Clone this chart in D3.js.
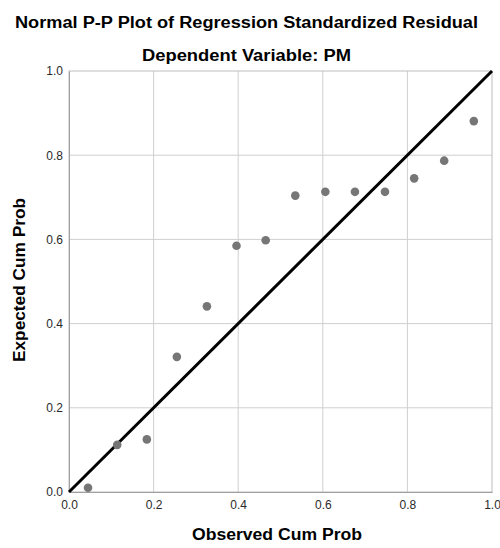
<!DOCTYPE html>
<html>
<head>
<meta charset="utf-8">
<script src="https://cdn.jsdelivr.net/npm/d3@7"></script>
<style>
  body { margin: 0; background: #fff; }
  text { font-family: "Liberation Sans", Arial, sans-serif; }
</style>
</head>
<body>
<div id="chart"></div>
<script>
// observed vs expected cumulative probability
const observed = [0.045, 0.114, 0.184, 0.255, 0.326, 0.396, 0.465, 0.535, 0.606, 0.676, 0.747, 0.816, 0.887, 0.957];
const expected = [0.010, 0.112, 0.125, 0.321, 0.441, 0.585, 0.598, 0.704, 0.713, 0.713, 0.713, 0.745, 0.787, 0.881];
const tickValues = [0, 0.2, 0.4, 0.6, 0.8, 1.0];
const diagonal = [0, 1];

const width = 500, height = 548;
const margin = {top: 71, right: 8, bottom: 56, left: 69};
const innerWidth = width - margin.left - margin.right;
const innerHeight = height - margin.top - margin.bottom;

const svg = d3.select("#chart").append("svg")
  .attr("width", width)
  .attr("height", height);

const x = d3.scaleLinear().domain([0, 1]).range([0, innerWidth]);
const y = d3.scaleLinear().domain([0, 1]).range([innerHeight, 0]);

const g = svg.append("g")
  .attr("transform", "translate(" + margin.left + "," + margin.top + ")");

// gridlines
g.append("g").selectAll("line")
  .data(tickValues.slice(1, -1))
  .join("line")
  .attr("x1", d => x(d)).attr("x2", d => x(d))
  .attr("y1", 0).attr("y2", innerHeight)
  .attr("stroke", "#cfcfcf");
g.append("g").selectAll("line")
  .data(tickValues.slice(1, -1))
  .join("line")
  .attr("y1", d => y(d)).attr("y2", d => y(d))
  .attr("x1", 0).attr("x2", innerWidth)
  .attr("stroke", "#cfcfcf");

// frame
g.append("rect")
  .attr("width", innerWidth).attr("height", innerHeight)
  .attr("fill", "none").attr("stroke", "#bdbdbd");

// axes
const xAxis = d3.axisBottom(x).tickValues(tickValues).tickFormat(d3.format(".1f")).tickSize(0).tickPadding(8);
const yAxis = d3.axisLeft(y).tickValues(tickValues).tickFormat(d3.format(".1f")).tickSize(0).tickPadding(6);

g.append("g")
  .attr("transform", "translate(0," + innerHeight + ")")
  .call(xAxis)
  .call(a => a.select(".domain").attr("stroke", "#a0a0a0"))
  .selectAll("text").attr("font-size", 12).attr("fill", "#2a2a2a")
  .attr("font-family", "Liberation Sans, Arial, sans-serif");

g.append("g")
  .call(yAxis)
  .call(a => a.select(".domain").attr("stroke", "#a0a0a0"))
  .selectAll("text").attr("font-size", 12).attr("fill", "#2a2a2a")
  .attr("font-family", "Liberation Sans, Arial, sans-serif");

// reference line
g.append("line")
  .attr("x1", x(diagonal[0])).attr("y1", y(diagonal[0]))
  .attr("x2", x(diagonal[1])).attr("y2", y(diagonal[1]))
  .attr("stroke", "#000").attr("stroke-width", 3);

// points
g.append("g").selectAll("circle")
  .data(observed.map((o, i) => [o, expected[i]]))
  .join("circle")
  .attr("cx", d => x(d[0]))
  .attr("cy", d => y(d[1]))
  .attr("r", 4.3)
  .attr("fill", "#767676");

// titles
svg.append("text")
  .attr("x", 246.5).attr("y", 28)
  .attr("text-anchor", "middle")
  .attr("font-size", 16).attr("font-weight", "bold")
  .attr("textLength", 463).attr("lengthAdjust", "spacingAndGlyphs")
  .text("Normal P-P Plot of Regression Standardized Residual");

svg.append("text")
  .attr("x", 246.5).attr("y", 61)
  .attr("text-anchor", "middle")
  .attr("font-size", 16).attr("font-weight", "bold")
  .attr("textLength", 209).attr("lengthAdjust", "spacingAndGlyphs")
  .text("Dependent Variable: PM");

svg.append("text")
  .attr("x", 277).attr("y", 540)
  .attr("text-anchor", "middle")
  .attr("font-size", 16).attr("font-weight", "bold")
  .attr("textLength", 170).attr("lengthAdjust", "spacingAndGlyphs")
  .text("Observed Cum Prob");

svg.append("text")
  .attr("transform", "translate(25,280) rotate(-90)")
  .attr("text-anchor", "middle")
  .attr("font-size", 16).attr("font-weight", "bold")
  .attr("textLength", 164).attr("lengthAdjust", "spacingAndGlyphs")
  .text("Expected Cum Prob");
</script>
</body>
</html>
